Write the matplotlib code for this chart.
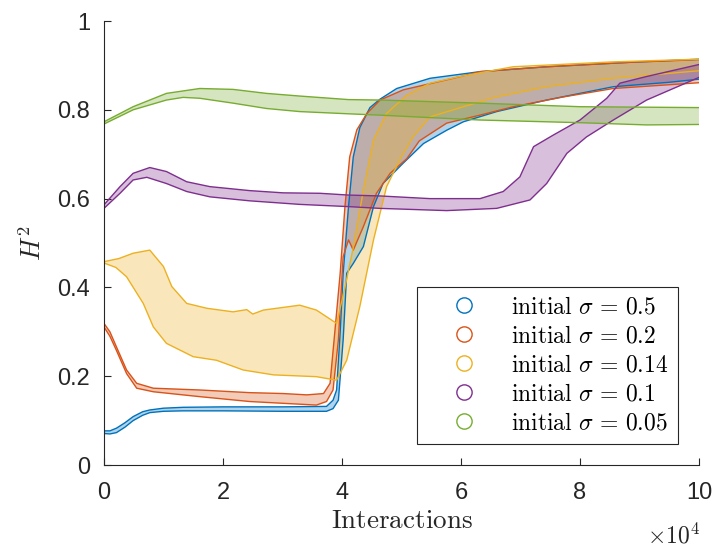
import numpy as np
import matplotlib
matplotlib.use("Agg")
import matplotlib.pyplot as plt
from matplotlib.lines import Line2D
from matplotlib.ticker import FuncFormatter

plt.rcParams['font.family'] = ['Liberation Sans', 'DejaVu Sans']
plt.rcParams['mathtext.fontset'] = 'cm'

SCALE = 1e4
labels = [r'$\mathrm{initial}\ \sigma\,=\,0.5$', r'$\mathrm{initial}\ \sigma\,=\,0.2$',
          r'$\mathrm{initial}\ \sigma\,=\,0.14$', r'$\mathrm{initial}\ \sigma\,=\,0.1$',
          r'$\mathrm{initial}\ \sigma\,=\,0.05$']
colors = ['#0072BD', '#D95319', '#EDB120', '#7E2F8E', '#77AC30']

# sigma = 0.5 (x in units of 1e4 interactions)
blue_up_x = [0, 0.1, 0.21, 0.35, 0.49, 0.65, 0.77, 1.0, 1.33, 2.0, 3.0, 3.74, 3.85, 3.91, 3.97, 4.02, 4.11, 4.19, 4.3, 4.47, 4.64, 4.92, 5.48, 6.32, 7.44, 8.84, 10]
blue_up_y = [0.077, 0.077, 0.083, 0.095, 0.109, 0.12, 0.124, 0.128, 0.130, 0.131, 0.131, 0.132, 0.146, 0.169, 0.30, 0.432, 0.582, 0.694, 0.76, 0.805, 0.824, 0.848, 0.871, 0.886, 0.897, 0.907, 0.914]
blue_lo_x = [0, 0.1, 0.21, 0.35, 0.49, 0.65, 0.77, 1.0, 1.33, 2.0, 3.0, 3.74, 3.85, 3.94, 4.02, 4.08, 4.19, 4.36, 4.53, 4.69, 5.03, 5.37, 5.76, 6.04, 6.6, 7.44, 8.56, 9.5, 10]
blue_lo_y = [0.071, 0.070, 0.073, 0.085, 0.100, 0.112, 0.118, 0.121, 0.122, 0.122, 0.121, 0.121, 0.127, 0.146, 0.282, 0.432, 0.454, 0.492, 0.582, 0.634, 0.68, 0.724, 0.754, 0.773, 0.796, 0.822, 0.852, 0.862, 0.869]

# sigma = 0.2
red_up_x = [0, 0.1, 0.21, 0.38, 0.55, 0.83, 1.61, 2.45, 3.01, 3.41, 3.69, 3.8, 3.88, 3.97, 4.05, 4.13, 4.25, 4.42, 4.64, 5.03, 5.87, 6.32, 7.44, 8.84, 10]
red_up_y = [0.319, 0.30, 0.266, 0.214, 0.184, 0.173, 0.169, 0.163, 0.161, 0.158, 0.161, 0.184, 0.30, 0.432, 0.582, 0.694, 0.755, 0.792, 0.822, 0.845, 0.871, 0.886, 0.897, 0.907, 0.913]
red_lo_x = [0, 0.1, 0.21, 0.38, 0.55, 0.83, 1.61, 2.45, 3.01, 3.57, 3.74, 3.85, 3.94, 4.02, 4.11, 4.19, 4.36, 4.58, 4.81, 5.09, 5.3, 5.76, 6.32, 6.88, 7.72, 8.56, 10]
red_lo_y = [0.311, 0.29, 0.258, 0.206, 0.173, 0.165, 0.154, 0.143, 0.139, 0.135, 0.143, 0.169, 0.282, 0.469, 0.507, 0.484, 0.537, 0.612, 0.657, 0.69, 0.73, 0.77, 0.788, 0.807, 0.829, 0.848, 0.861]

# sigma = 0.14
yel_up_x = [0, 0.25, 0.49, 0.77, 1.0, 1.14, 1.39, 1.73, 2.17, 2.4, 2.5, 2.68, 3.29, 3.57, 3.91, 4.05, 4.19, 4.36, 4.53, 4.75, 5.09, 5.48, 5.98, 6.88, 8.56, 10]
yel_up_y = [0.458, 0.465, 0.477, 0.484, 0.447, 0.402, 0.364, 0.353, 0.345, 0.35, 0.34, 0.349, 0.36, 0.349, 0.319, 0.40, 0.49, 0.619, 0.732, 0.792, 0.833, 0.86, 0.875, 0.897, 0.908, 0.914]
yel_lo_x = [0, 0.2, 0.38, 0.66, 0.83, 1.05, 1.5, 1.89, 2.34, 2.85, 3.57, 3.91, 4.08, 4.3, 4.53, 4.75, 4.97, 5.2, 5.48, 6.04, 6.6, 7.44, 8.56, 10]
yel_lo_y = [0.455, 0.445, 0.424, 0.364, 0.311, 0.274, 0.244, 0.236, 0.214, 0.203, 0.199, 0.191, 0.236, 0.357, 0.507, 0.627, 0.687, 0.74, 0.784, 0.807, 0.829, 0.852, 0.871, 0.888]

# sigma = 0.1
pur_up_x = [0, 0.27, 0.49, 0.77, 1.05, 1.39, 1.78, 2.45, 3.01, 3.63, 4.11, 4.64, 5.48, 6.32, 6.71, 6.99, 7.22, 7.55, 8.0, 8.45, 8.67, 9.12, 10]
pur_up_y = [0.586, 0.627, 0.657, 0.670, 0.661, 0.638, 0.627, 0.618, 0.613, 0.612, 0.608, 0.606, 0.60, 0.60, 0.616, 0.649, 0.717, 0.743, 0.777, 0.826, 0.86, 0.875, 0.902]
pur_lo_x = [0, 0.27, 0.49, 0.72, 1.05, 1.39, 1.78, 2.45, 3.29, 4.11, 4.64, 5.76, 6.6, 7.16, 7.44, 7.78, 8.11, 8.56, 9.12, 10]
pur_lo_y = [0.578, 0.612, 0.642, 0.648, 0.634, 0.616, 0.604, 0.595, 0.587, 0.582, 0.578, 0.573, 0.578, 0.597, 0.634, 0.702, 0.739, 0.777, 0.822, 0.873]

# sigma = 0.05
grn_up_x = [0, 0.49, 1.05, 1.61, 2.17, 2.73, 3.29, 4.11, 4.64, 6.32, 8.0, 10]
grn_up_y = [0.773, 0.807, 0.837, 0.848, 0.846, 0.837, 0.831, 0.823, 0.822, 0.815, 0.807, 0.805]
grn_lo_x = [0, 0.49, 1.05, 1.33, 1.61, 2.17, 2.73, 3.29, 4.11, 4.64, 6.32, 8.0, 9.12, 10]
grn_lo_y = [0.768, 0.80, 0.822, 0.828, 0.826, 0.815, 0.803, 0.796, 0.791, 0.788, 0.777, 0.771, 0.766, 0.767]

series = [
    (blue_up_x, blue_up_y, blue_lo_x, blue_lo_y),
    (red_up_x, red_up_y, red_lo_x, red_lo_y),
    (yel_up_x, yel_up_y, yel_lo_x, yel_lo_y),
    (pur_up_x, pur_up_y, pur_lo_x, pur_lo_y),
    (grn_up_x, grn_up_y, grn_lo_x, grn_lo_y),
]

x_ticks = [0, 2, 4, 6, 8, 10]
y_ticks = [0, 0.2, 0.4, 0.6, 0.8, 1]

fig = plt.figure(figsize=(7.18, 5.5), dpi=100)
ax = fig.add_axes([0.1448, 0.1545, 0.8287, 0.8073])

for (ux, uy, lx, ly), c in zip(series, colors):
    ux = np.array(ux) * SCALE
    lx = np.array(lx) * SCALE
    px = np.concatenate([ux, lx[::-1]])
    py = np.concatenate([uy, ly[::-1]])
    ax.fill(px, py, color=c, alpha=0.3, lw=0)
    ax.plot(ux, uy, color=c, lw=1.0)
    ax.plot(lx, ly, color=c, lw=1.0)

ax.set_xlim(0, 10 * SCALE)
ax.set_ylim(0, 1)
ax.set_xticks(np.array(x_ticks) * SCALE)
ax.set_yticks(y_ticks)
ax.xaxis.set_major_formatter(FuncFormatter(lambda v, p: f'{v / SCALE:g}'))
ax.yaxis.set_major_formatter(FuncFormatter(lambda v, p: f'{v:g}'))

axcol = '#262626'
for s in ['top', 'right']:
    ax.spines[s].set_visible(False)
for s in ['left', 'bottom']:
    ax.spines[s].set_color(axcol)
    ax.spines[s].set_linewidth(0.8)
ax.tick_params(direction='in', length=5, width=0.8, colors=axcol, labelsize=17)
ax.tick_params(axis='x', pad=12)
ax.tick_params(axis='y', pad=10)

ax.set_xlabel(r'$\mathrm{Interactions}$', fontsize=19.5, color=axcol, labelpad=3)
ax.set_ylabel(r'$H^2$', fontsize=19, color=axcol, labelpad=8)
fig.text(0.975, 0.003, r'$\times10^4$', fontsize=17, color=axcol, ha='right', va='bottom',
         family='Liberation Sans')

handles = [Line2D([], [], ls='none', marker='o', ms=11, mfc='none', mec=c, mew=1.0) for c in colors]
leg = ax.legend(handles, labels, loc='lower right', bbox_to_anchor=(0.965, 0.047),
                borderaxespad=0, fontsize=17, frameon=True, fancybox=False,
                edgecolor=axcol, framealpha=1, handlelength=3.2, handletextpad=0.4,
                labelspacing=0.3, borderpad=0.4)
leg.get_frame().set_linewidth(0.8)

fig.savefig('out.png', dpi=100)
